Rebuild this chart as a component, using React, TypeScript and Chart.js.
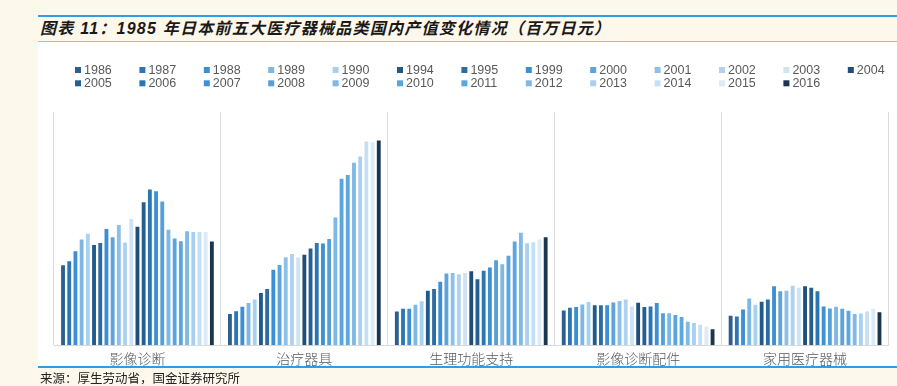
import React, { useEffect, useRef } from "react";
import { Chart, registerables } from "chart.js";

Chart.register(...registerables);

// ---------- DATA ----------
const categories = ["影像诊断", "治疗器具", "生理功能支持", "影像诊断配件", "家用医疗器械"];

const years = [
  "1986", "1987", "1988", "1989", "1990", "1994", "1995", "1999", "2000", "2001", "2002", "2003", "2004",
  "2005", "2006", "2007", "2008", "2009", "2010", "2011", "2012", "2013", "2014", "2015", "2016",
];

// 百万日元, one value per year (same order as `years`)
const imagingDiagnosis = [
  411000, 432000, 484000, 544000, 574000, 516000, 526000, 598000, 555000, 619000, 528000, 649000, 610000,
  736000, 801000, 792000, 740000, 594000, 549000, 535000, 586000, 582000, 582000, 582000, 534000,
];
const therapeuticDevices = [
  161000, 175000, 198000, 217000, 235000, 268000, 289000, 388000, 413000, 453000, 469000, 451000, 465000,
  498000, 526000, 523000, 547000, 657000, 857000, 876000, 939000, 971000, 1048000, 1044000, 1053000,
];
const lifeSupport = [
  173000, 187000, 187000, 208000, 226000, 280000, 289000, 327000, 369000, 371000, 365000, 372000, 381000,
  339000, 383000, 400000, 437000, 416000, 460000, 534000, 579000, 525000, 530000, 544000, 556000,
];
const imagingAccessories = [
  178000, 193000, 196000, 210000, 222000, 205000, 205000, 205000, 220000, 227000, 235000, 199000, 219000,
  196000, 199000, 217000, 164000, 164000, 156000, 145000, 121000, 114000, 105000, 96000, 82000,
];
const homeDevices = [
  151000, 148000, 184000, 240000, 208000, 224000, 235000, 303000, 278000, 280000, 306000, 295000, 303000,
  295000, 277000, 199000, 189000, 198000, 187000, 177000, 161000, 163000, 173000, 187000, 169000,
];

const categoryValues = [imagingDiagnosis, therapeuticDevices, lifeSupport, imagingAccessories, homeDevices];

const yearColors = [
  "#2A5F8F", "#2E75B6", "#3A8FD8", "#7EB6E4", "#A8D0F0", "#1F5A8C", "#2B6CA3", "#3C8FD6", "#5FA3DC",
  "#8DC0E8", "#AFD2F0", "#CFE3F5", "#1F4E79", "#255E90", "#2A75B4", "#3E90D4", "#56A0DA", "#7DB8E6",
  "#5AA5DE", "#5DA7E0", "#7FB9E6", "#A9D0F0", "#C5E0F5", "#DDEBF7", "#1A3550",
];

const yMax = 1200000;

// ---------- LEGEND (grid of 13 + 12 items) ----------
const gridLegend = {
  id: "gridLegend",
  afterDraw(chart: any) {
    const ctx = chart.ctx as CanvasRenderingContext2D;
    ctx.save();
    ctx.font = "12.5px 'Liberation Sans', Arial, sans-serif";
    ctx.textBaseline = "middle";
    ctx.textAlign = "left";
    chart.data.datasets.forEach((ds: any, i: number) => {
      const row = i < 13 ? 0 : 1;
      const col = row === 0 ? i : i - 13;
      const x = 37 + col * 64.4;
      const y = row === 0 ? 28 : 41.3;
      ctx.fillStyle = ds.backgroundColor;
      ctx.fillRect(x, y - 3, 6, 6);
      ctx.fillStyle = "#595959";
      ctx.fillText(ds.label, x + 9, y + 0.5);
    });
    ctx.restore();
  },
};

export default function App() {
  const canvasRef = useRef<HTMLCanvasElement | null>(null);

  useEffect(() => {
    if (!canvasRef.current) return;
    const datasets = years.map((yr, i) => ({
      label: yr,
      data: categoryValues.map((arr) => arr[i]),
      backgroundColor: yearColors[i],
      borderWidth: 0,
      categoryPercentage: 0.929,
      barPercentage: 0.62,
    }));
    const chart = new Chart(canvasRef.current, {
      type: "bar",
      data: { labels: categories, datasets },
      options: {
        responsive: false,
        animation: false,
        layout: { padding: { top: 70, left: 16, right: 8.5, bottom: 0 } },
        plugins: { legend: { display: false }, tooltip: { enabled: false } },
        scales: {
          x: {
            grid: { color: "#D9D9D9", drawTicks: false, offset: true },
            border: { color: "#D9D9D9" },
            ticks: {
              color: "#595959",
              font: { size: 14, family: "'Noto Sans CJK SC', sans-serif", weight: "300" },
              padding: 5,
              maxRotation: 0,
            },
          },
          y: { display: false, min: 0, max: yMax },
        },
      },
      plugins: [gridLegend],
    });
    return () => chart.destroy();
  }, []);

  const blue = "#2E9EE4";
  return (
    <div
      style={{
        position: "absolute",
        left: 0,
        top: 0,
        width: 897,
        height: 386,
        background: "#FDF8EC",
        overflow: "hidden",
      }}
    >
      <div style={{ position: "absolute", left: 38, top: 15, width: 859, height: 2, background: blue }} />
      <div
        style={{
          position: "absolute",
          left: 40,
          top: 17,
          height: 24,
          lineHeight: "24px",
          fontFamily: "'Liberation Sans', 'Noto Sans CJK SC', sans-serif",
          fontWeight: "bold",
          fontStyle: "italic",
          fontSize: 16,
          letterSpacing: "1.25px",
          color: "#1A1A1A",
          whiteSpace: "nowrap",
        }}
      >
        图表 11：1985 年日本前五大医疗器械品类国内产值变化情况（百万日元）
      </div>
      <div style={{ position: "absolute", left: 38, top: 41, width: 859, height: 1, background: "#8CC7EE" }} />
      <div style={{ position: "absolute", left: 38, top: 42, width: 859, height: 324, background: "#FFFFFF" }} />
      <canvas
        ref={canvasRef}
        width={859}
        height={330}
        style={{ position: "absolute", left: 38, top: 42, display: "block" }}
      />
      <div style={{ position: "absolute", left: 38, top: 366, width: 859, height: 2, background: blue }} />
      <div
        style={{
          position: "absolute",
          left: 40,
          top: 369,
          height: 17,
          lineHeight: "17px",
          fontFamily: "'Noto Sans CJK SC', sans-serif",
          fontSize: 12.5,
          color: "#222222",
          whiteSpace: "nowrap",
        }}
      >
        来源：厚生劳动省，国金证券研究所
      </div>
    </div>
  );
}
